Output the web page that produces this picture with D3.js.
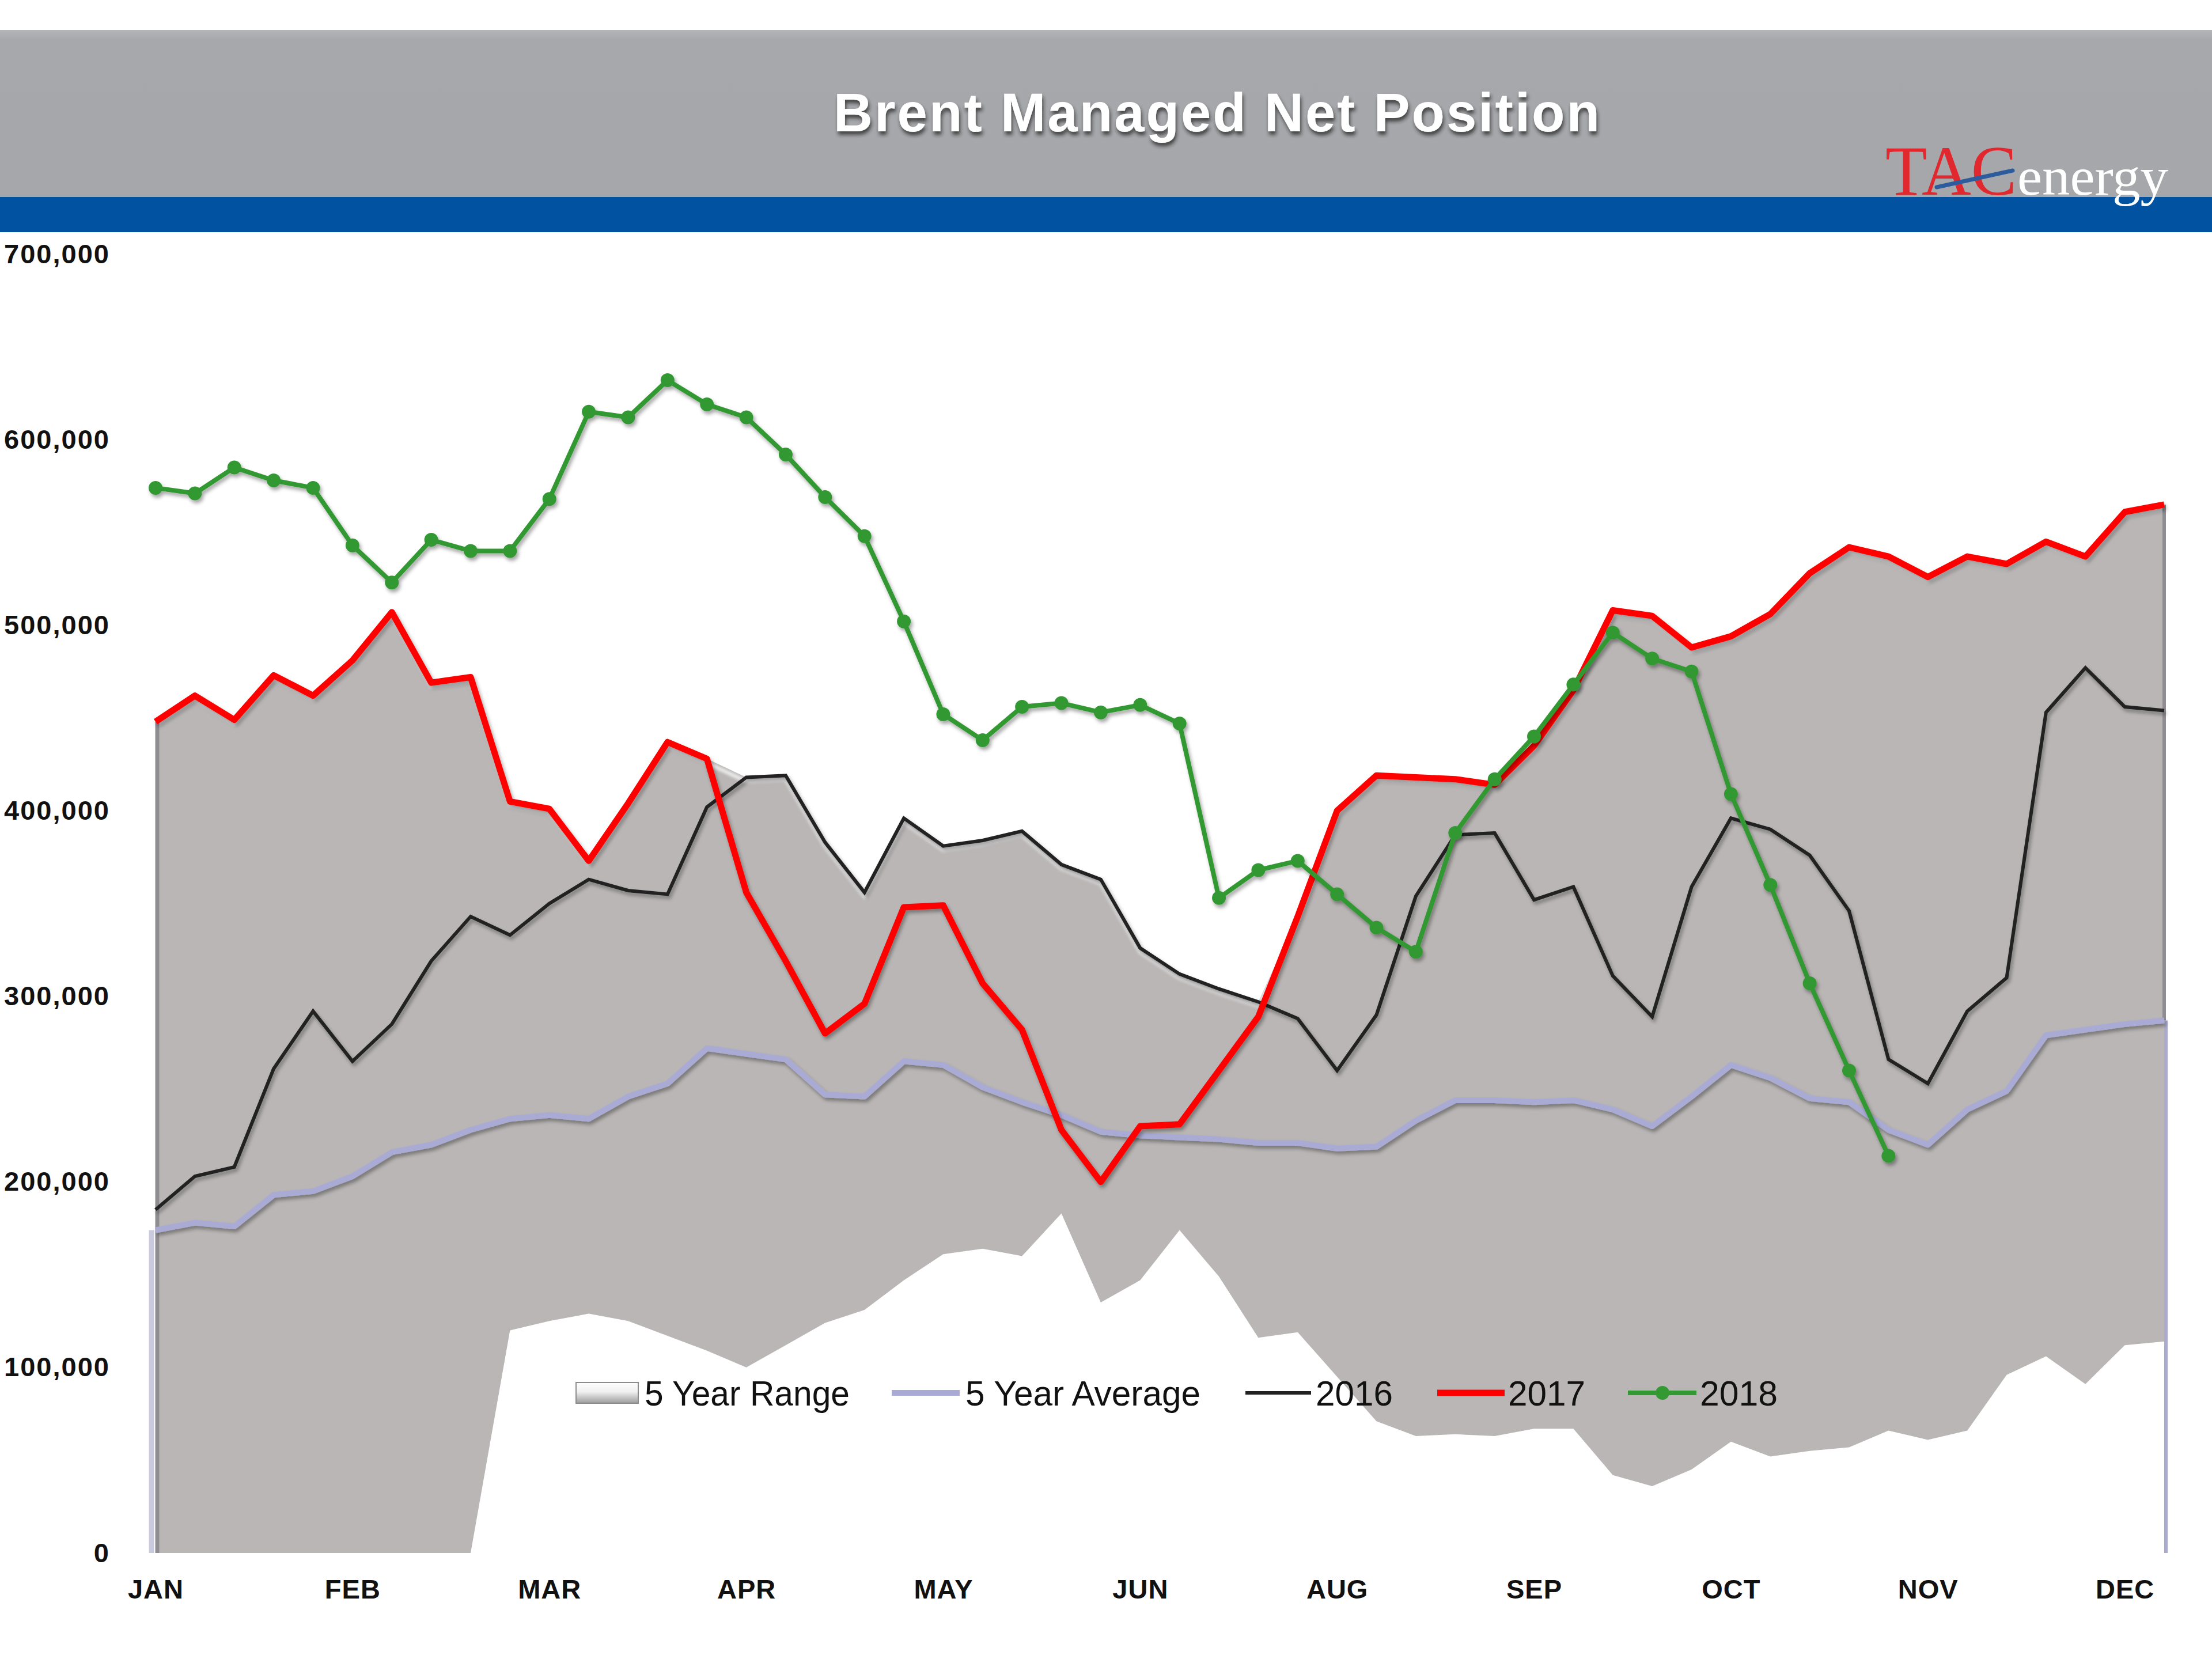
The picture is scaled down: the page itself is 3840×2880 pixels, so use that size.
<!DOCTYPE html>
<html><head><meta charset="utf-8">
<script src="https://cdn.jsdelivr.net/npm/d3@7"></script>
<style>html,body{margin:0;padding:0;background:#fff;} svg{display:block;}</style>
</head><body>
<svg id="chart" width="3840" height="2880"></svg>
<script>
// ---------- DATA ----------
const chartTitle = "Brent Managed Net Position";
const monthLabels = ["JAN","FEB","MAR","APR","MAY","JUN","AUG","SEP","OCT","NOV","DEC"];
const labelWeeks = [0,5,10,15,20,25,30,35,40,45,50];
const yTickValues = [0,100000,200000,300000,400000,500000,600000,700000];
const seriesNames = ["5 Year Range","5 Year Average","2016","2017","2018"];

const rangeHigh = [448000,462000,449000,473000,462000,481000,507000,469000,472000,405000,401000,373000,404000,437000,428000,418000,419000,383000,356000,396000,381000,384000,389000,371000,363000,326000,312000,304000,297000,343000,400000,419000,418000,417000,414000,435000,465000,508000,505000,488000,494000,506000,528000,542000,537000,526000,537000,533000,545000,537000,561000,565000];
const rangeLow = [0,0,0,0,0,0,0,0,0,120000,125000,129000,125000,117000,109000,100000,112000,124000,131000,147000,161000,164000,160000,183000,135000,147000,174000,149000,116000,119000,95000,71000,63000,64000,63000,67000,67000,42000,36000,45000,60000,52000,55000,57000,66000,61000,66000,96000,106000,91000,112000,114000];
const avg5 = [174000,178000,176000,193000,195000,203000,216000,220000,228000,234000,236000,234000,246000,253000,272000,269000,266000,247000,246000,265000,263000,251000,243000,236000,227000,225000,224000,223000,221000,221000,218000,219000,233000,244000,244000,243000,244000,239000,230000,246000,263000,256000,245000,243000,228000,220000,239000,249000,279000,282000,285000,287000];
const y2016 = [185000,203000,208000,261000,292000,265000,285000,319000,343000,333000,350000,363000,357000,355000,402000,418000,419000,383000,356000,396000,381000,384000,389000,371000,363000,326000,312000,304000,297000,288000,260000,290000,354000,387000,388000,352000,359000,311000,289000,359000,396000,390000,376000,346000,266000,253000,292000,310000,453000,477000,456000,454000];
const y2017 = [448000,462000,449000,473000,462000,481000,507000,469000,472000,405000,401000,373000,404000,437000,428000,356000,319000,280000,296000,348000,349000,307000,282000,228000,200000,230000,231000,260000,289000,343000,400000,419000,418000,417000,414000,435000,465000,508000,505000,488000,494000,506000,528000,542000,537000,526000,537000,533000,545000,537000,561000,565000];
const y2018 = [574000,571000,585000,578000,574000,543000,523000,546000,540000,540000,568000,615000,612000,632000,619000,612000,592000,569000,548000,502000,452000,438000,456000,458000,453000,457000,447000,353000,368000,373000,355000,337000,324000,388000,417000,440000,468000,496000,482000,475000,409000,360000,307000,260000,214000];

// ---------- LAYOUT ----------
const svg = d3.select("#chart");
const nWeeks = rangeHigh.length;
const x = d3.scaleLinear().domain([0, nWeeks - 1]).range([270, 3757]);
const y = d3.scaleLinear().domain([0, 700000]).range([2696, 441]);
const idx = d3.range(nWeeks);

const defs = svg.append("defs");
const sh = defs.append("filter").attr("id","lineShadow").attr("x","-5%").attr("y","-5%").attr("width","110%").attr("height","120%");
sh.append("feDropShadow").attr("dx",3).attr("dy",5).attr("stdDeviation",3).attr("flood-color","#000").attr("flood-opacity",0.35);
const tsh = defs.append("filter").attr("id","titleShadow").attr("x","-5%").attr("y","-20%").attr("width","110%").attr("height","160%");
tsh.append("feDropShadow").attr("dx",2).attr("dy",6).attr("stdDeviation",3).attr("flood-color","#222").attr("flood-opacity",0.75);
const blur = defs.append("filter").attr("id","softBlur");
blur.append("feGaussianBlur").attr("stdDeviation",2.5);
const lg = defs.append("linearGradient").attr("id","rangeGrad").attr("x1",0).attr("y1",0).attr("x2",0).attr("y2",1);
lg.append("stop").attr("offset","0%").attr("stop-color","#ffffff");
lg.append("stop").attr("offset","45%").attr("stop-color","#f0f0f0");
lg.append("stop").attr("offset","100%").attr("stop-color","#9c9c9c");
const hg = defs.append("linearGradient").attr("id","headGrad").attr("x1",0).attr("y1",0).attr("x2",0).attr("y2",1);
hg.append("stop").attr("offset","0%").attr("stop-color","#b4b5b8");
hg.append("stop").attr("offset","6%").attr("stop-color","#a7a8ab");
hg.append("stop").attr("offset","100%").attr("stop-color","#a6a7aa");

// ---------- HEADER ----------
svg.append("rect").attr("x",0).attr("y",52).attr("width",3840).attr("height",290).attr("fill","url(#headGrad)");
svg.append("rect").attr("x",0).attr("y",342).attr("width",3840).attr("height",61).attr("fill","#0153a2");
svg.append("text").text(chartTitle)
  .attr("x",2112).attr("y",228).attr("text-anchor","middle")
  .attr("textLength",1330).attr("lengthAdjust","spacing")
  .attr("font-family","Liberation Sans, Arial, sans-serif").attr("font-weight","bold")
  .attr("font-size",94).attr("fill","#ffffff").attr("filter","url(#titleShadow)");
// logo
svg.append("text").text("TAC").attr("x",3273).attr("y",338)
  .attr("font-family","Liberation Serif, Times New Roman, serif").attr("font-size",122)
  .attr("textLength",228).attr("lengthAdjust","spacingAndGlyphs").attr("fill","#e0282e");
svg.append("line").attr("x1",3362).attr("y1",325).attr("x2",3494).attr("y2",296)
  .attr("stroke","#2d5c9e").attr("stroke-width",7).attr("stroke-linecap","round");
svg.append("text").text("energy").attr("x",3502).attr("y",338)
  .attr("font-family","Liberation Serif, Times New Roman, serif").attr("font-size",94)
  .attr("textLength",262).attr("lengthAdjust","spacingAndGlyphs").attr("fill","#ffffff");

// ---------- RANGE AREA ----------
const area = d3.area().x(i => x(i)).y0(i => y(rangeLow[i])).y1(i => y(rangeHigh[i]));
defs.append("clipPath").attr("id","areaClip").append("path").attr("d", area(idx));
svg.append("path").attr("d", area(idx)).attr("fill","#bab6b6");
const topLine = d3.line().x(i => x(i)).y(i => y(rangeHigh[i]));
svg.append("g").attr("clip-path","url(#areaClip)")
  .append("path").attr("d", topLine(idx)).attr("transform","translate(0,7)")
  .attr("fill","none").attr("stroke","#ffffff").attr("stroke-width",6).attr("opacity",0.8).attr("filter","url(#softBlur)");

// end edges
svg.append("line").attr("x1",x(0)-7).attr("x2",x(0)-7).attr("y1",y(avg5[0])).attr("y2",y(0))
  .attr("stroke","#c9cade").attr("stroke-width",9);
svg.append("line").attr("x1",x(0)+3).attr("x2",x(0)+3).attr("y1",y(rangeHigh[0])).attr("y2",y(rangeLow[0]))
  .attr("stroke","#8f8d92").attr("stroke-width",7);
svg.append("line").attr("x1",x(nWeeks-1)).attr("x2",x(nWeeks-1)).attr("y1",y(rangeHigh[nWeeks-1])).attr("y2",y(avg5[nWeeks-1]))
  .attr("stroke","#8f8d92").attr("stroke-width",6);
svg.append("line").attr("x1",x(nWeeks-1)+3).attr("x2",x(nWeeks-1)+3).attr("y1",y(avg5[nWeeks-1])).attr("y2",y(0))
  .attr("stroke","#a9aace").attr("stroke-width",6);

// baseline
svg.append("line").attr("x1",x(0)-10).attr("x2",x(nWeeks-1)+6).attr("y1",y(0)).attr("y2",y(0))
  .attr("stroke","#a9a9a9").attr("stroke-width",5).attr("filter","url(#lineShadow)");

// ---------- AXES ----------
const yAxis = d3.axisLeft(y).tickValues(yTickValues).tickFormat(d3.format(",")).tickSize(0).tickPadding(0);
const gy = svg.append("g").attr("transform","translate(191,0)").call(yAxis);
gy.select(".domain").remove();
gy.selectAll("text").attr("font-family","Liberation Sans, Arial, sans-serif").attr("font-weight","bold")
  .attr("font-size",47).attr("letter-spacing",2).attr("fill","#111");

const xAxis = d3.axisBottom(x).tickValues(labelWeeks).tickFormat((d,i) => monthLabels[i]).tickSize(0).tickPadding(46);
const gx = svg.append("g").attr("transform",`translate(0,${y(0)})`).call(xAxis);
gx.select(".domain").remove();
gx.selectAll("text").attr("font-family","Liberation Sans, Arial, sans-serif").attr("font-weight","bold")
  .attr("font-size",47).attr("letter-spacing",1).attr("fill","#111");

// ---------- LINES ----------
const mkLine = arr => d3.line().x((d,i) => x(i)).y(d => y(d))(arr);
svg.append("path").attr("d", mkLine(avg5)).attr("fill","none").attr("stroke","#aaabd5")
  .attr("stroke-width",10).attr("stroke-linejoin","round").attr("filter","url(#lineShadow)");
svg.append("path").attr("d", mkLine(y2016)).attr("fill","none").attr("stroke","#222222")
  .attr("stroke-width",6).attr("stroke-linejoin","miter").attr("filter","url(#lineShadow)");
svg.append("path").attr("d", mkLine(y2017)).attr("fill","none").attr("stroke","#ff0000")
  .attr("stroke-width",11).attr("stroke-linejoin","round").attr("filter","url(#lineShadow)");
const g18 = svg.append("g").attr("filter","url(#lineShadow)");
g18.append("path").attr("d", mkLine(y2018)).attr("fill","none").attr("stroke","#339933")
  .attr("stroke-width",8).attr("stroke-linejoin","round");
g18.selectAll("circle").data(y2018).join("circle")
  .attr("cx",(d,i) => x(i)).attr("cy", d => y(d)).attr("r",12).attr("fill","#339933");

// ---------- LEGEND ----------
const legY = 2418;
function legText(str, lx, w) {
  svg.append("text").text(str).attr("x",lx).attr("y",legY+22)
    .attr("font-family","Liberation Sans, Arial, sans-serif").attr("font-size",62).attr("fill","#111")
    .attr("textLength",w).attr("lengthAdjust","spacingAndGlyphs");
}
svg.append("rect").attr("x",1000).attr("y",2400).attr("width",108).attr("height",36)
  .attr("fill","url(#rangeGrad)").attr("stroke","#8c8c8c").attr("stroke-width",2);
legText(seriesNames[0], 1119, 356);
svg.append("line").attr("x1",1548).attr("x2",1666).attr("y1",legY).attr("y2",legY).attr("stroke","#aaabd5").attr("stroke-width",10);
legText(seriesNames[1], 1676, 408);
svg.append("line").attr("x1",2162).attr("x2",2276).attr("y1",legY).attr("y2",legY).attr("stroke","#222").attr("stroke-width",6);
legText(seriesNames[2], 2284, 134);
svg.append("line").attr("x1",2495).attr("x2",2612).attr("y1",legY).attr("y2",legY).attr("stroke","#ff0000").attr("stroke-width",11);
legText(seriesNames[3], 2618, 134);
svg.append("line").attr("x1",2826).attr("x2",2945).attr("y1",legY).attr("y2",legY).attr("stroke","#339933").attr("stroke-width",8);
svg.append("circle").attr("cx",2886).attr("cy",legY).attr("r",12).attr("fill","#339933");
legText(seriesNames[4], 2951, 135);
</script>
</body></html>
